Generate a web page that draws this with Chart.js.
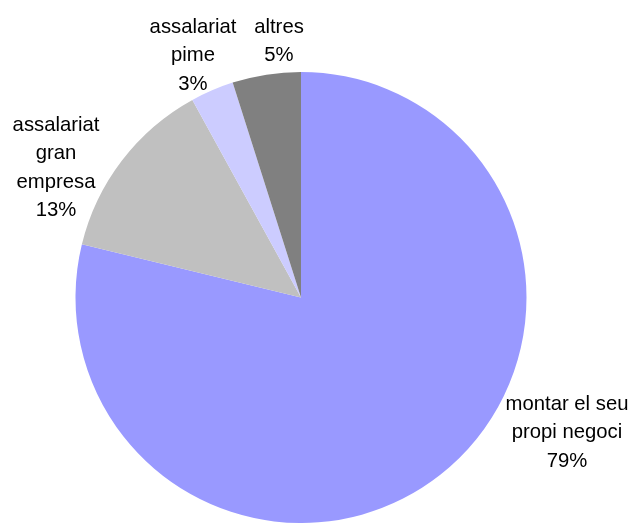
<!DOCTYPE html>
<html>
<head>
<meta charset="utf-8">
<script src="https://cdn.jsdelivr.net/npm/chart.js@4.4.0/dist/chart.umd.min.js"></script>
<style>
    html, body { margin: 0; padding: 0; background: #fff; overflow: hidden; }
    #wrap { width: 630px; height: 523px; position: relative; }
</style>
</head>
<body>
<div id="wrap"><canvas id="graphique"></canvas></div>
<script>
// donnees
const categories = [
    ['montar el seu', 'propi negoci'],
    ['assalariat', 'gran', 'empresa'],
    ['assalariat', 'pime'],
    ['altres']
];
const valeurs = [78.8, 13.2, 3.1, 4.9];
const etiquettesPct = ['79%', '13%', '3%', '5%'];

const couleurs = ['#9999FF', '#C0C0C0', '#CCCCFF', '#808080'];

// position des etiquettes par rapport au centre du camembert (centre x, premiere ligne)
const decalages = [[266, 112], [-245, -167], [-108, -265], [-22, -265]];

const pluginEtiquettes = {
    id: 'etiquettes',
    afterDatasetsDraw(chart) {
        const ctx = chart.ctx;
        const meta = chart.getDatasetMeta(0);
        ctx.save();
        ctx.font = '20.3px "Liberation Sans", Arial, sans-serif';
        ctx.fillStyle = '#000';
        ctx.textAlign = 'center';
        ctx.textBaseline = 'alphabetic';
        meta.data.forEach(function (arc, i) {
            const lignes = categories[i].concat([etiquettesPct[i]]);
            const x = arc.x + decalages[i][0];
            let y = arc.y + decalages[i][1];
            lignes.forEach(function (l) {
                ctx.fillText(l, x, y);
                y += 28.5;
            });
        });
        ctx.restore();
    }
};

new Chart(document.getElementById('graphique'), {
    type: 'pie',
    data: {
        labels: categories.map(c => c.join(' ')),
        datasets: [{
            data: valeurs,
            backgroundColor: couleurs,
            borderWidth: 0
        }]
    },
    options: {
        responsive: true,
        maintainAspectRatio: false,
        animation: false,
        layout: { padding: { left: 75, right: 103, top: 72, bottom: -1 } },
        plugins: {
            legend: { display: false },
            tooltip: { enabled: false }
        }
    },
    plugins: [pluginEtiquettes]
});
</script>
</body>
</html>
